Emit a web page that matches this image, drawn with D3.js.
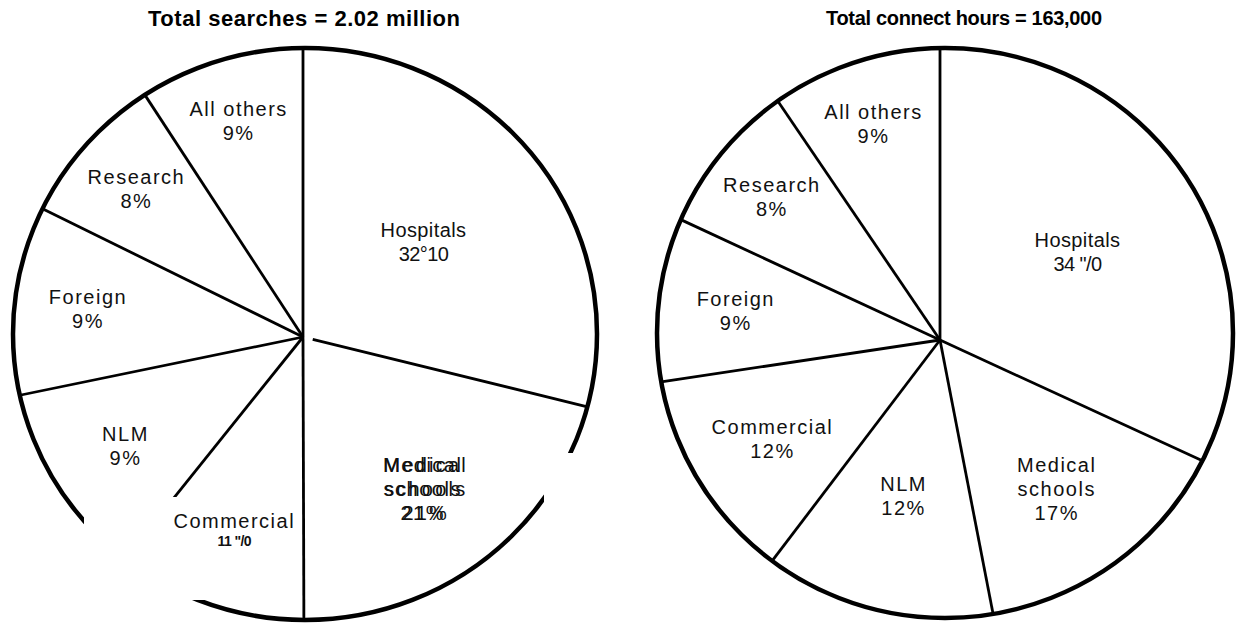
<!DOCTYPE html>
<html>
<head>
<meta charset="utf-8">
<script src="https://cdn.jsdelivr.net/npm/d3@7"></script>
<style>
  body { margin: 0; background: #fff; }
  svg { display: block; }
  .lbl { font-family: "Liberation Sans", Arial, sans-serif; font-size: 20px; letter-spacing: 1.5px; fill: #111; }
  .title { font-family: "Liberation Sans", Arial, sans-serif; font-size: 22px; font-weight: bold; fill: #000; }
</style>
</head>
<body>
<script>
// left pie: searches
const searchTitle = 'Total searches  =  2.02 million'
const searchCats = ['Hospitals', 'Medical\nschools', 'Commercial', 'NLM', 'Foreign', 'Research', 'All others']
const searchShares = [28.8, 21.1, 10.8, 11.0, 10.5, 8.5, 9.2]   // slice sizes as drawn
const searchLabels = ['32°10', '21%', '11 "/0', '9%', '9%', '8%', '9%']

// right pie: connect hours
const hoursTitle = 'Total connect hours = 163,000'
const hoursCats = ['Hospitals', 'Medical\nschools', 'NLM', 'Commercial', 'Foreign', 'Research', 'All others']
const hoursShares = [31.9, 15.1, 13.4, 12.3, 9.3, 8.6, 9.5]
const hoursLabels = ['34 "/0', '17%', '12%', '12%', '9%', '8%', '9%']

// how far out each label sits (fraction of radius)
const searchLabelK = [0.53, 0.67, 0.72, 0.72, 0.75, 0.77, 0.78]
const hoursLabelK = [0.57, 0.66, 0.56, 0.68, 0.72, 0.77, 0.79]

const svg = d3.select('body').append('svg')
  .attr('width', 1237)
  .attr('height', 623)

const pie = d3.pie().sort(null).value(d => d.share)

// point where a ray from the pie hub meets the outline ellipse
function edgePoint(hub, ell, a) {
  const ux = Math.sin(a), uy = -Math.cos(a)
  const px = (hub[0] - ell.cx) / ell.rx, py = (hub[1] - ell.cy) / ell.ry
  const vx = ux / ell.rx, vy = uy / ell.ry
  const A = vx * vx + vy * vy, B = 2 * (px * vx + py * vy), C = px * px + py * py - 1
  const t = (-B + Math.sqrt(B * B - 4 * A * C)) / (2 * A)
  return [hub[0] + ux * t, hub[1] + uy * t]
}

function drawPie(opt) {
  const data = opt.cats.map((c, i) => ({name: c, share: opt.shares[i], value: opt.labels[i]}))
  const arcs = pie(data)
  const g = svg.append('g')
  const r = (opt.ell.rx + opt.ell.ry) / 2

  // title
  g.append('text')
    .attr('class', 'title')
    .attr('x', opt.titleX)
    .attr('y', opt.titleY)
    .attr('text-anchor', 'middle')
    .style('font-size', opt.titleSize + 'px')
    .attr('textLength', opt.titleW)
    .attr('lengthAdjust', 'spacing')
    .text(opt.title)

  // outline
  g.append('ellipse')
    .attr('cx', opt.ell.cx).attr('cy', opt.ell.cy)
    .attr('rx', opt.ell.rx).attr('ry', opt.ell.ry)
    .attr('fill', 'none')
    .attr('stroke', '#000')
    .attr('stroke-width', 4.5)

  // radial dividers
  g.selectAll('.div')
    .data(arcs)
    .enter().append('line')
    .attr('class', 'div')
    .attr('x1', (d, i) => opt.hub[0] + (opt.gapAt === i ? 10 * Math.sin(d.startAngle) : 0))
    .attr('y1', (d, i) => opt.hub[1] - (opt.gapAt === i ? 10 * Math.cos(d.startAngle) : 0))
    .attr('x2', d => edgePoint(opt.hub, opt.ell, d.startAngle)[0])
    .attr('y2', d => edgePoint(opt.hub, opt.ell, d.startAngle)[1])
    .attr('stroke', '#000')
    .attr('stroke-width', 2.8)

  // white patches from the scan
  if (opt.patches) {
    g.selectAll('.patch')
      .data(opt.patches)
      .enter().append('rect')
      .attr('x', d => d[0]).attr('y', d => d[1])
      .attr('width', d => d[2]).attr('height', d => d[3])
      .attr('fill', '#fff')
  }

  // labels
  arcs.forEach(d => {
    const k = opt.labelK[d.index]
    const c = d3.arc().innerRadius(k * r).outerRadius(k * r).centroid(d)
    const cx = opt.hub[0] + c[0], cy = opt.hub[1] + c[1]
    const lines = d.data.name.split('\n').concat([d.data.value])
    const y0 = cy - (lines.length - 1) * 12
    const isHosp = d.data.name === 'Hospitals'
    const isOdd = /"|°/.test(d.data.value)
    const copies = (opt.ghost === d.index) ? [0, 3] : [0]
    copies.forEach(off => {
      lines.forEach((t, j) => {
        const last = j === lines.length - 1
        const txt = g.append('text')
          .attr('class', 'lbl')
          .attr('x', cx + off)
          .attr('y', y0 + j * 24)
          .attr('dy', '0.35em')
          .attr('text-anchor', 'middle')
          .text(t)
        if (isHosp) txt.style('letter-spacing', '0.4px')
        if (last && isOdd) {
          txt.style('letter-spacing', '-0.6px')
          if (d.data.name === 'Commercial') {
            txt.style('font-size', '14px').style('font-weight', 'bold')
              .attr('y', y0 + j * 24 - 4)
          }
        }
        if (off) txt.style('letter-spacing', '2.2px')
      })
    })
  })
}

drawPie({
  title: searchTitle, titleX: 304, titleY: 26, titleW: 312, titleSize: 22,
  cats: searchCats, shares: searchShares, labels: searchLabels,
  labelK: searchLabelK,
  hub: [303, 337],
  ell: {cx: 305, cy: 334, rx: 292, ry: 286},
  gapAt: 1,
  ghost: 1,
  patches: [[84, 497, 211, 103], [544, 453, 76, 170]]
})

drawPie({
  title: hoursTitle, titleX: 964, titleY: 25, titleW: 276, titleSize: 20,
  cats: hoursCats, shares: hoursShares, labels: hoursLabels,
  labelK: hoursLabelK,
  hub: [940, 340],
  ell: {cx: 945, cy: 333, rx: 288, ry: 285}
})
</script>
</body>
</html>
